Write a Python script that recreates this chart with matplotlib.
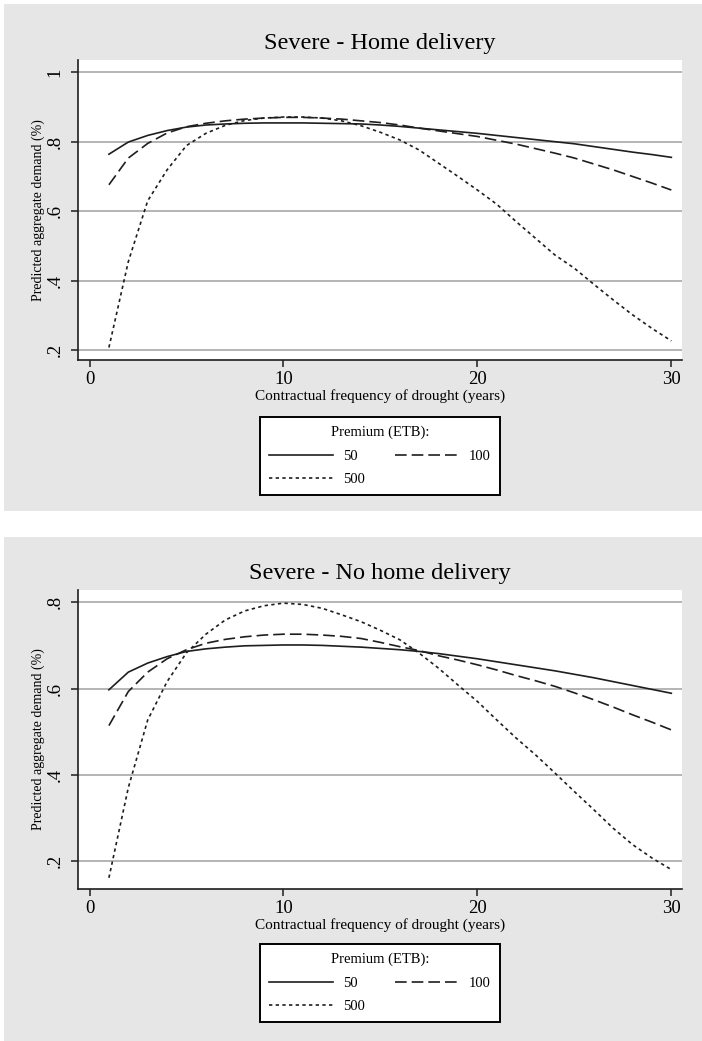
"""
plot.py
Predicted aggregate demand vs contractual drought frequency, two Stata-style panels.
Saves: out.png
"""

import matplotlib
matplotlib.use("Agg")
import matplotlib.pyplot as plt
from matplotlib.patches import Rectangle
from matplotlib.lines import Line2D

# ── 0. Data ───────────────────────────────────────────────────────────────────
years = list(range(1, 31))

premiums = ["50", "100", "500"]

home_50 = [0.764, 0.799, 0.818, 0.832, 0.842, 0.848, 0.851, 0.853, 0.854, 0.854,
           0.854, 0.853, 0.852, 0.851, 0.848, 0.844, 0.839, 0.834, 0.829, 0.824,
           0.818, 0.812, 0.806, 0.800, 0.794, 0.786, 0.778, 0.770, 0.763, 0.755]
home_100 = [0.676, 0.753, 0.795, 0.825, 0.843, 0.853, 0.860, 0.865, 0.868, 0.870,
            0.870, 0.868, 0.865, 0.860, 0.855, 0.848, 0.839, 0.831, 0.823, 0.815,
            0.804, 0.793, 0.780, 0.767, 0.753, 0.736, 0.719, 0.700, 0.681, 0.661]
home_500 = [0.208, 0.455, 0.630, 0.719, 0.789, 0.824, 0.847, 0.861, 0.868, 0.871,
            0.871, 0.868, 0.860, 0.846, 0.827, 0.805, 0.776, 0.738, 0.700, 0.661,
            0.620, 0.570, 0.522, 0.474, 0.436, 0.390, 0.345, 0.302, 0.263, 0.227]

nohome_50 = [0.597, 0.638, 0.659, 0.674, 0.686, 0.692, 0.696, 0.699, 0.700, 0.701,
             0.701, 0.700, 0.698, 0.696, 0.693, 0.690, 0.686, 0.681, 0.675, 0.669,
             0.662, 0.655, 0.648, 0.641, 0.633, 0.625, 0.616, 0.607, 0.598, 0.589]
nohome_100 = [0.514, 0.593, 0.638, 0.669, 0.690, 0.705, 0.714, 0.720, 0.724, 0.726,
              0.726, 0.724, 0.721, 0.716, 0.707, 0.697, 0.688, 0.676, 0.666, 0.655,
              0.643, 0.630, 0.618, 0.605, 0.590, 0.574, 0.557, 0.539, 0.522, 0.504]
nohome_500 = [0.161, 0.370, 0.527, 0.616, 0.683, 0.726, 0.759, 0.780, 0.792, 0.798,
              0.795, 0.786, 0.771, 0.755, 0.735, 0.713, 0.682, 0.647, 0.608, 0.570,
              0.527, 0.485, 0.446, 0.404, 0.361, 0.319, 0.276, 0.238, 0.207, 0.180]

x_ticks = [0, 10, 20, 30]
home_yticks = [0.2, 0.4, 0.6, 0.8, 1.0]
home_ylabels = [".2", ".4", ".6", ".8", "1"]
nohome_yticks = [0.2, 0.4, 0.6, 0.8]
nohome_ylabels = [".2", ".4", ".6", ".8"]

# ── 1. Style ──────────────────────────────────────────────────────────────────
plt.rcParams["font.family"] = ["Liberation Serif", "DejaVu Serif"]
W, H = 702, 1041
PANEL_GRAY = "#e6e6e6"
INK = "#1e1e1e"
styles = [
    dict(linestyle="-"),
    dict(linestyle=(0, (7, 3))),
    dict(linestyle=(0, (2, 2))),
]

fig = plt.figure(figsize=(W / 100, H / 100), dpi=100)
fig.patch.set_facecolor("white")

# gray outer boxes (pixel coords -> figure fraction), kept behind the axes
for top_px, bot_px in [(4, 511), (537, 1041)]:
    fig.patches.append(Rectangle((4 / W, 1 - bot_px / H), (W - 4) / W, (bot_px - top_px) / H,
                                 transform=fig.transFigure, facecolor=PANEL_GRAY,
                                 edgecolor="none", zorder=-10))


def draw_panel(top_px, bot_px, series, title, yticks, ylabels, ylim, legend_top_px):
    left_px, right_px = 77.5, 682
    ax = fig.add_axes([left_px / W, 1 - bot_px / H, (right_px - left_px) / W,
                       (bot_px - top_px) / H])
    ax.set_zorder(1)
    ax.set_facecolor("white")

    for vals, st in zip(series, styles):
        ax.plot(years, vals, color=INK, linewidth=1.2, **st)

    ax.set_xlim(-0.62, 30.55)
    ax.set_ylim(*ylim)
    ax.set_xticks(x_ticks)
    ax.set_xticklabels([str(t) for t in x_ticks], fontsize=13.5)
    ax.set_yticks(yticks)
    ax.set_yticklabels(ylabels, fontsize=13.5, rotation=90, va="center")
    ax.yaxis.grid(True, color="#b4b4b4", linewidth=1.4)
    ax.set_axisbelow(True)
    ax.tick_params(direction="out", length=5, width=1.1, color=INK)
    ax.tick_params(axis="y", pad=5)
    ax.tick_params(axis="x", pad=3)

    for s in ["top", "right"]:
        ax.spines[s].set_visible(False)
    for s in ["left", "bottom"]:
        ax.spines[s].set_linewidth(1.2)
        ax.spines[s].set_color(INK)

    ax.set_xlabel("Contractual frequency of drought (years)", fontsize=11, labelpad=1)
    ax.set_ylabel("Predicted aggregate demand (%)", fontsize=10)
    ax.yaxis.set_label_coords((45 - left_px) / (right_px - left_px), 0.5)

    fig.text((left_px + right_px) / 2 / W, 1 - (top_px - 17) / H, title,
             ha="center", va="center", fontsize=17.5)

    # legend: row 1 = 50, 100 ; row 2 = 500
    handles = [Line2D([], [], color=INK, linewidth=1.2, **st) for st in styles]
    order = [0, 2, 1]
    leg = ax.legend([handles[i] for i in order], [premiums[i] for i in order],
                    title="Premium (ETB):", ncol=2, loc="upper center",
                    bbox_to_anchor=(380 / W, 1 - legend_top_px / H),
                    bbox_transform=fig.transFigure, borderaxespad=0,
                    fontsize=10.5, title_fontsize=10.5,
                    frameon=True, fancybox=False, edgecolor="black", framealpha=1,
                    handlelength=4.4, handletextpad=0.7, columnspacing=2.0,
                    borderpad=0.6, labelspacing=0.7)
    leg.get_frame().set_linewidth(1.4)
    return ax


# ── 2. Panels ─────────────────────────────────────────────────────────────────
draw_panel(60, 359.5, [home_50, home_100, home_500], "Severe - Home delivery",
           home_yticks, home_ylabels, (0.1735, 1.035), 417)
draw_panel(590, 889, [nohome_50, nohome_100, nohome_500], "Severe - No home delivery",
           nohome_yticks, nohome_ylabels, (0.135, 0.8285), 944)

fig.savefig("out.png", dpi=100)
print("Saved out.png")
